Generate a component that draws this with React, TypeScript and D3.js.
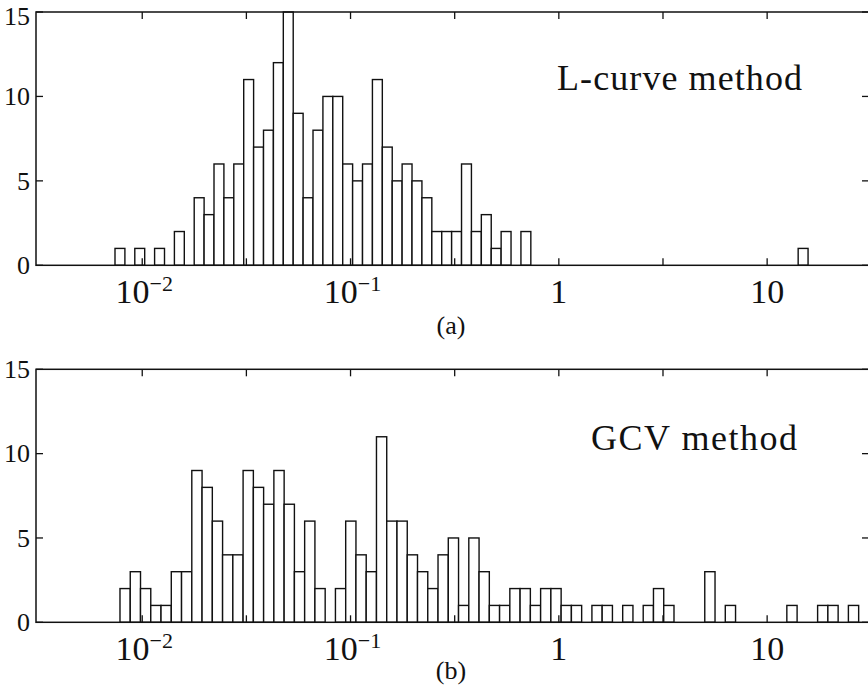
import React from "react";
import * as d3 from "d3";

const W = 868;
const H = 691;

// counts per bin (bins are equal width in log10)
const lcurveCounts = [
  1, 0, 1, 0, 1, 0, 2, 0, 4, 3, 6, 4, 6, 11, 7, 8, 12, 15, 9, 4, 8, 10, 10, 6, 5, 6, 11, 7, 5, 6,
  5, 4, 2, 2, 2, 6, 2, 3, 1, 2, 0, 2, 0, 0, 0, 0, 0, 0, 0, 0, 0, 0, 0, 0, 0, 0, 0, 0, 0, 0,
  0, 0, 0, 0, 0, 0, 0, 0, 0, 1,
];
const gcvCounts = [
  2, 3, 2, 1, 1, 3, 3, 9, 8, 6, 4, 4, 9, 8, 7, 9, 7, 3, 6, 2, 0, 2, 6, 4, 3, 11, 6, 6, 4, 3,
  2, 4, 5, 1, 5, 3, 1, 1, 2, 2, 1, 2, 2, 1, 1, 0, 1, 1, 0, 1, 0, 1, 2, 1, 0, 0, 0, 3, 0, 1,
  0, 0, 0, 0, 0, 1, 0, 0, 1, 1, 0, 1,
];
// lower / upper edge of the histogram bins
const lcurveRange = [0.0074, 15.72];
const gcvRange = [0.00782, 27.5];

const yTicks = [0, 5, 10, 15];
const xTickExp = [-2, -1.5, -1, -0.5, 0, 0.5, 1];
const xLabels = [
  { v: 0.01, base: "10", sup: "\u22122" },
  { v: 0.1, base: "10", sup: "\u22121" },
  { v: 1, base: "1", sup: "" },
  { v: 10, base: "10", sup: "" },
];

const font = "Liberation Serif, DejaVu Serif, serif";

const x = d3.scaleLog().domain([Math.pow(10, -2.51), Math.pow(10, 1.489)]).range([36, 869]);

function binEdges(range: number[], n: number) {
  const [lo, hi] = range;
  return d3.range(n + 1).map((i) => lo * Math.pow(hi / lo, i / n));
}

type PanelProps = {
  counts: number[];
  range: number[];
  top: number;
  bottom: number;
  title: string;
  titleX: number;
  titleY: number;
  titleLen: number;
  caption: string;
  captionY: number;
};

const Panel = ({ counts, range, top, bottom, title, titleX, titleY, titleLen, caption, captionY }: PanelProps) => {
  const y = d3.scaleLinear().domain([0, 15]).range([bottom, top]);
  const edges = binEdges(range, counts.length);
  const [x0, x1] = x.range();
  const tl = 7;

  return (
    <g>
      {counts.map((c, i) =>
        c > 0 ? (
          <rect
            key={i}
            x={x(edges[i])}
            y={y(c)}
            width={x(edges[i + 1]) - x(edges[i])}
            height={y(0) - y(c)}
            fill="#fff"
            stroke="#111"
            strokeWidth={1.4}
          />
        ) : null
      )}

      {/* frame */}
      <rect x={x0} y={top} width={x1 - x0} height={bottom - top} fill="none" stroke="#111" strokeWidth={1.5} />

      {/* x ticks, top and bottom, pointing inward */}
      {xTickExp.map((e) => {
        const px = x(Math.pow(10, e));
        return (
          <g key={e} stroke="#111" strokeWidth={1.3}>
            <line x1={px} x2={px} y1={top} y2={top + tl} />
            <line x1={px} x2={px} y1={bottom} y2={bottom - tl} />
          </g>
        );
      })}

      {/* y ticks left and right */}
      {yTicks.map((t) => (
        <g key={t} stroke="#111" strokeWidth={1.3}>
          <line x1={x0} x2={x0 + tl} y1={y(t)} y2={y(t)} />
          <line x1={x1} x2={x1 - tl} y1={y(t)} y2={y(t)} />
        </g>
      ))}

      {yTicks.map((t) => (
        <text
          key={t}
          x={30}
          y={Math.max(y(t), 16)}
          dy="0.34em"
          textAnchor="end"
          fontFamily={font}
          fontSize={26}
          fill="#111"
        >
          {t}
        </text>
      ))}

      {xLabels.map((l) => (
        <text
          key={l.v}
          x={x(l.v) + (l.sup ? 2 : 0)}
          y={bottom + 38}
          textAnchor="middle"
          fontFamily={font}
          fontSize={34}
          fill="#111"
        >
          {l.base}
          {l.sup ? (
            <tspan dy={-12} fontSize={22}>
              {l.sup}
            </tspan>
          ) : null}
        </text>
      ))}

      <text x={titleX} y={titleY} fontFamily={font} fontSize={36} fill="#111" textLength={titleLen} lengthAdjust="spacing">
        {title}
      </text>

      <text x={451} y={captionY} textAnchor="middle" fontFamily={font} fontSize={26} fill="#111">
        {caption}
      </text>
    </g>
  );
};

export default function App() {
  return (
    <svg width={W} height={H} viewBox={`0 0 ${W} ${H}`} style={{ position: "absolute", left: 0, top: 0, background: "#fff" }}>
      <rect width={W} height={H} fill="#fff" />
      <Panel
        counts={lcurveCounts}
        range={lcurveRange}
        top={12}
        bottom={265.3}
        title="L-curve method"
        titleX={557}
        titleY={90}
        titleLen={245}
        caption="(a)"
        captionY={334}
      />
      <Panel
        counts={gcvCounts}
        range={gcvRange}
        top={369.3}
        bottom={622.3}
        title="GCV method"
        titleX={591}
        titleY={450}
        titleLen={206}
        caption="(b)"
        captionY={679}
      />
    </svg>
  );
}
